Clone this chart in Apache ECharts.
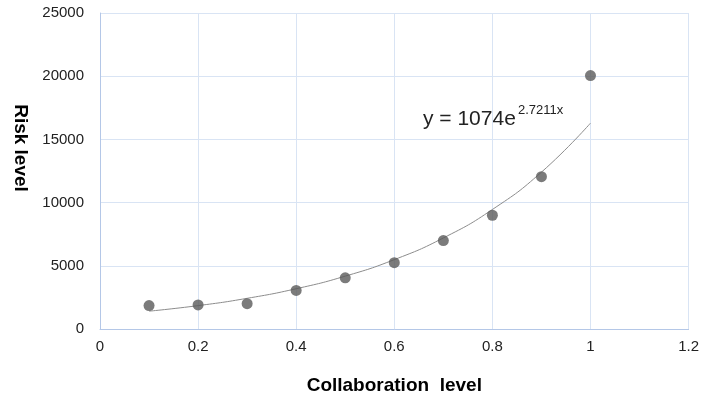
<!DOCTYPE html>
<html>
<head>
<meta charset="utf-8">
<script src="https://cdn.jsdelivr.net/npm/echarts@6/dist/echarts.min.js"></script>
<style>html,body{margin:0;padding:0;background:#fff}#c{width:702px;height:404px}</style>
</head>
<body>
<div id="c"></div>
<script>
var xValues = [0.1, 0.2, 0.3, 0.4, 0.5, 0.6, 0.7, 0.8, 0.9, 1.0];
var riskValues = [1850, 1900, 2000, 3050, 4050, 5250, 7000, 9000, 12050, 20050];
var trendValues = [1410, 1849, 2428, 3186, 4181, 5488, 7203, 9454, 12408, 16286];
var equationMain = 'y = 1074e';
var equationExp = '2.7211x';
var xTitle = 'Collaboration  level';
var yTitle = 'Risk level';

var FONT = 'Liberation Sans';
var chart = echarts.init(document.getElementById('c'));
chart.setOption({
  animation: false,
  grid: {left: 100, right: 12, top: 13, bottom: 75},
  xAxis: {
    type: 'value', min: 0, max: 1.2, interval: 0.2,
    name: xTitle, nameLocation: 'middle', nameGap: 47,
    nameTextStyle: {fontFamily: FONT, fontSize: 19, fontWeight: 'bold', color: '#000'},
    axisLine: {show: true, lineStyle: {color: '#b4c7e7', width: 1}},
    axisTick: {show: false},
    axisLabel: {fontFamily: FONT, fontSize: 15, color: '#222', margin: 10,
      formatter: function (v) { return String(Math.round(v * 10) / 10); }},
    splitLine: {show: true, lineStyle: {color: '#d9e4f4', width: 1}}
  },
  yAxis: {
    type: 'value', min: 0, max: 25000, interval: 5000,
    axisLine: {show: true, lineStyle: {color: '#b4c7e7', width: 1}},
    axisTick: {show: false},
    axisLabel: {fontFamily: FONT, fontSize: 15, color: '#222', margin: 16,
      formatter: function (v) { return String(v); }},
    splitLine: {show: true, lineStyle: {color: '#d9e4f4', width: 1}}
  },
  series: [
    {
      type: 'line', smooth: true, symbol: 'none',
      data: xValues.map(function (x, i) { return [x, trendValues[i]]; }),
      lineStyle: {color: '#8c8c8c', width: 1},
      z: 2
    },
    {
      type: 'scatter', symbol: 'circle', symbolSize: 11,
      data: xValues.map(function (x, i) { return [x, riskValues[i]]; }),
      itemStyle: {color: '#5a5a5a'},
      z: 3
    }
  ],
  graphic: [
    {
      type: 'text', x: 20, y: 148, rotation: -Math.PI / 2,
      style: {text: yTitle, fontFamily: FONT, fontSize: 19, fontWeight: 'bold', fill: '#000',
        align: 'center', verticalAlign: 'middle'}
    },
    {
      type: 'text', x: 423, y: 109,
      style: {text: equationMain, fontFamily: FONT, fontSize: 21, fill: '#222',
        align: 'left', verticalAlign: 'top'}
    },
    {
      type: 'text', x: 518, y: 104,
      style: {text: equationExp, fontFamily: FONT, fontSize: 13, fill: '#222',
        align: 'left', verticalAlign: 'top'}
    }
  ]
});
</script>
</body>
</html>
